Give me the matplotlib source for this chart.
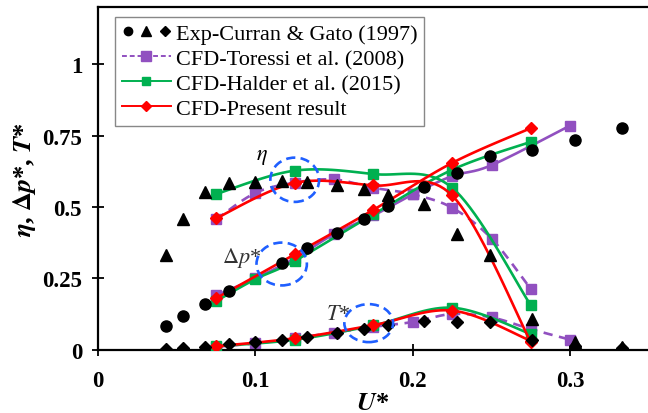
import numpy as np
import matplotlib
matplotlib.use("Agg")
import matplotlib.pyplot as plt
from matplotlib.patches import Ellipse
from matplotlib.lines import Line2D
from matplotlib.legend_handler import HandlerTuple

plt.rcParams["font.family"] = ["Liberation Serif", "DejaVu Serif"]
plt.rcParams["mathtext.fontset"] = "stix"

# --- experimental data (Curran & Gato 1997) ---
u_exp = [0.043, 0.054, 0.068, 0.083, 0.100, 0.117, 0.133, 0.152,
         0.169, 0.184, 0.207, 0.228, 0.249, 0.276, 0.303, 0.333]
eta_exp = [0.331, 0.459, 0.553, 0.584, 0.586, 0.589, 0.587, 0.576,
           0.561, 0.540, 0.510, 0.404, 0.331, 0.108, 0.026, 0.008]
t_exp = [0.002, 0.005, 0.011, 0.020, 0.027, 0.033, 0.045, 0.058,
         0.072, 0.086, 0.101, 0.096, 0.096, 0.035, 0.014, 0.006]
u_dp_exp = [0.043, 0.054, 0.068, 0.083, 0.117, 0.133, 0.152,
            0.169, 0.184, 0.207, 0.228, 0.249, 0.276, 0.303, 0.333]
dp_exp = [0.082, 0.117, 0.160, 0.205, 0.305, 0.355, 0.407,
          0.456, 0.503, 0.570, 0.619, 0.677, 0.700, 0.735, 0.778]

# --- CFD Toressi et al. (2008) ---
u_tor = [0.075, 0.100, 0.125, 0.150, 0.175, 0.200, 0.225, 0.250, 0.275]
eta_tor = [0.456, 0.549, 0.585, 0.596, 0.567, 0.544, 0.497, 0.389, 0.212]
u_tor_dp = [0.075, 0.100, 0.125, 0.150, 0.175, 0.200, 0.225, 0.250, 0.300]
dp_tor = [0.190, 0.250, 0.320, 0.405, 0.470, 0.544, 0.608, 0.646, 0.785]
u_tor_t = [0.075, 0.100, 0.125, 0.150, 0.175, 0.200, 0.225, 0.250, 0.275, 0.300]
t_tor = [0.010, 0.022, 0.040, 0.060, 0.080, 0.097, 0.125, 0.113, 0.072, 0.035]

# --- CFD Halder et al. (2015) ---
u_hal = [0.075, 0.125, 0.175, 0.225, 0.275]
eta_hal = [0.545, 0.627, 0.615, 0.567, 0.155]
u_hal_dp = [0.075, 0.100, 0.125, 0.175, 0.225, 0.275]
dp_hal = [0.170, 0.247, 0.311, 0.474, 0.630, 0.728]
t_hal = [0.012, 0.035, 0.085, 0.147, 0.055]

# --- CFD present result ---
u_pre = [0.075, 0.125, 0.175, 0.225, 0.275]
eta_pre = [0.460, 0.584, 0.575, 0.540, 0.026]
dp_pre = [0.180, 0.334, 0.490, 0.654, 0.776]
t_pre = [0.012, 0.040, 0.086, 0.137, 0.031]

PURPLE = "#9150C0"
GREEN = "#00B050"
RED = "#FF0000"
BLUE = "#1F5FFF"


def smooth(x, y, n=20):
    # excel-like smoothed line (catmull-rom bezier)
    p = np.column_stack([x, y]).astype(float)
    pts = [p[0]]
    for i in range(len(p) - 1):
        p0 = p[i - 1] if i > 0 else p[i]
        p1, p2 = p[i], p[i + 1]
        p3 = p[i + 2] if i + 2 < len(p) else p[i + 1]
        c1 = p1 + (p2 - p0) / 6
        c2 = p2 - (p3 - p1) / 6
        t = np.linspace(0, 1, n)[1:, None]
        seg = ((1 - t) ** 3 * p1 + 3 * (1 - t) ** 2 * t * c1
               + 3 * (1 - t) * t ** 2 * c2 + t ** 3 * p2)
        pts.extend(seg)
    pts = np.array(pts)
    return pts[:, 0], pts[:, 1]


fig = plt.figure(figsize=(6.48, 4.14), dpi=100)
ax = fig.add_axes([0.1512, 0.1529, 0.8488, 0.8278])


def cfd(x, y, color, marker, ms, ls, z):
    sx, sy = smooth(x, y)
    ax.plot(sx, sy, color=color, lw=1.9, ls=ls, zorder=z)
    ax.plot(x, y, ls="none", marker=marker, ms=ms, color=color,
            markeredgecolor=color, zorder=z)


dash = (0, (3.5, 2.5))
cfd(u_tor, eta_tor, PURPLE, "s", 7, dash, 2)
cfd(u_tor_dp, dp_tor, PURPLE, "s", 7, "-", 2)
cfd(u_tor_t, t_tor, PURPLE, "s", 7, dash, 2)

cfd(u_hal, eta_hal, GREEN, "s", 6.5, "-", 3)
cfd(u_hal_dp, dp_hal, GREEN, "s", 6.5, "-", 3)
cfd(u_hal, t_hal, GREEN, "s", 6.5, "-", 3)

cfd(u_pre, eta_pre, RED, "D", 6, "-", 4)
cfd(u_pre, dp_pre, RED, "D", 6, "-", 4)
cfd(u_pre, t_pre, RED, "D", 6, "-", 4)

ax.plot(u_dp_exp, dp_exp, ls="none", marker="o", ms=8, color="black", zorder=5)
ax.plot(u_exp, eta_exp, ls="none", marker="^", ms=8, color="black", zorder=5)
ax.plot(u_exp, t_exp, ls="none", marker="D", ms=6, color="black", zorder=5)

# dashed blue ellipses + labels
for cx, cy, w, h in [(0.125, 0.595, 0.031, 0.155),
                     (0.1167, 0.300, 0.032, 0.150),
                     (0.1720, 0.093, 0.031, 0.133)]:
    ax.add_patch(Ellipse((cx, cy), w, h, fill=False, edgecolor=BLUE,
                         lw=1.9, ls=(0, (3.5, 2)), zorder=6))

ax.text(0.104, 0.675, r"$\eta$", fontsize=16, ha="center", va="center")
ax.text(0.0915, 0.324, r"$\Delta p$*", fontsize=16, ha="center", va="center",
        color="#333333")
ax.text(0.1527, 0.125, r"$T$*", fontsize=16, ha="center", va="center",
        color="#333333")

ax.set_xlim(0, 0.3494)
ax.set_ylim(0, 1.2)
ax.set_xticks([0, 0.1, 0.2, 0.3])
ax.set_xticklabels(["0", "0.1", "0.2", "0.3"])
ax.set_yticks([0, 0.25, 0.5, 0.75, 1])
ax.set_yticklabels(["0", "0.25", "0.5", "0.75", "1"])
ax.tick_params(direction="inout", length=9, width=1.3, labelsize=16.5)
ax.tick_params(axis="x", pad=10)
ax.tick_params(axis="y", pad=7)
for lab in ax.get_xticklabels() + ax.get_yticklabels():
    lab.set_fontweight("bold")
for s in ["left", "bottom", "top"]:
    ax.spines[s].set_linewidth(1.6)
ax.spines["right"].set_visible(False)

ax.set_xlabel(r"$\boldsymbol{U}$*", fontsize=19, fontweight="bold",
              labelpad=0)
ax.set_ylabel(r"$\boldsymbol{\eta}$, $\boldsymbol{\Delta p}$*, $\boldsymbol{T}$*",
              fontsize=19, fontweight="bold", labelpad=3)

# legend
h_exp = (Line2D([], [], ls="none", marker="o", ms=6, color="black"),
         Line2D([], [], ls="none", marker="^", ms=6.5, color="black"),
         Line2D([], [], ls="none", marker="D", ms=5, color="black"))
h_tor = Line2D([], [], color=PURPLE, lw=1.4, ls=(0, (2.5, 1.5)), marker="s", ms=6.5)
h_hal = Line2D([], [], color=GREEN, lw=1.4, marker="s", ms=6)
h_pre = Line2D([], [], color=RED, lw=1.4, marker="D", ms=5)
leg = ax.legend([h_exp, h_tor, h_hal, h_pre],
                ["Exp-Curran & Gato (1997)", "CFD-Toressi et al. (2008)",
                 "CFD-Halder et al. (2015)", "CFD-Present result"],
                handler_map={tuple: HandlerTuple(ndivide=None, pad=0.3)},
                loc="upper left", bbox_to_anchor=(0.031, 0.971),
                borderaxespad=0, fontsize=16, handlelength=2.2,
                handletextpad=0.25, labelspacing=0.2, borderpad=0.3,
                fancybox=False, edgecolor="#888888", framealpha=1)
leg.get_frame().set_linewidth(1.0)

fig.savefig("out.png", dpi=100)
